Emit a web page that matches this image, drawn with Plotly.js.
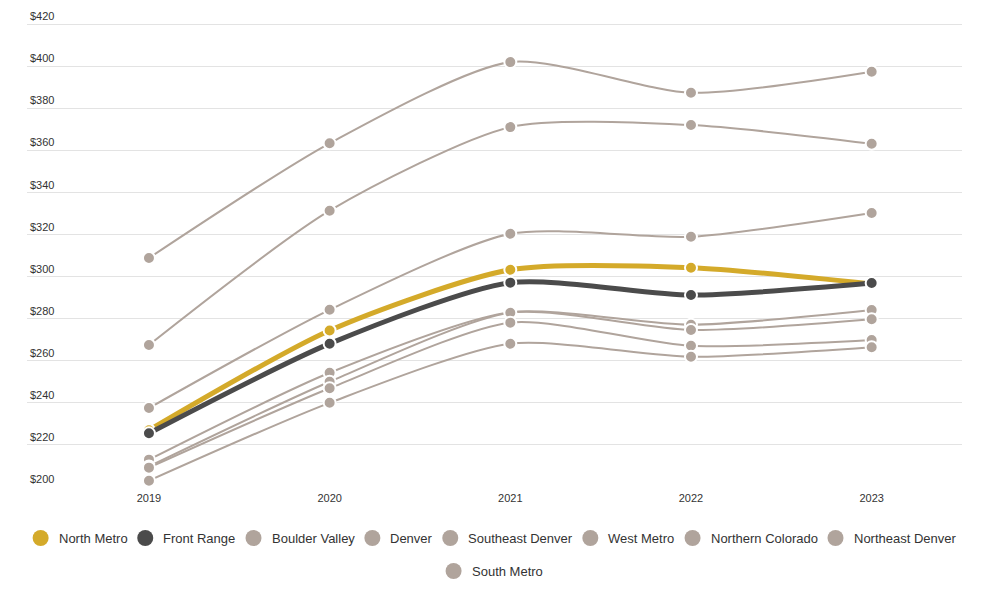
<!DOCTYPE html>
<html>
<head>
<meta charset="utf-8">
<script src="https://cdn.plot.ly/plotly-3.0.1.min.js"></script>
<style>
  html, body { margin: 0; padding: 0; background: #fff; }
  #chart { width: 1000px; height: 612px; }
</style>
</head>
<body>
<div id="chart"></div>
<script>
// ---- Data ----
const years = [2019, 2020, 2021, 2022, 2023];
const yearLabels = ["2019", "2020", "2021", "2022", "2023"];

const northMetro       = [227.0, 274.4, 303.2, 304.2, 296.5];
const frontRange       = [225.5, 268.1, 297.1, 291.2, 296.9];
const boulderValley    = [308.8, 363.3, 401.9, 387.3, 397.3];
const denver           = [267.5, 331.3, 371.0, 372.0, 363.1];
const southeastDenver  = [237.5, 284.2, 320.3, 318.9, 330.2];
const westMetro        = [213.0, 254.3, 283.1, 277.1, 284.1];
const northernColorado = [209.8, 250.0, 282.8, 274.6, 279.7];
const northeastDenver  = [209.2, 246.9, 278.1, 267.1, 269.8];
const southMetro       = [203.0, 240.0, 268.1, 261.9, 266.4];

const seriesNames = ["North Metro", "Front Range", "Boulder Valley", "Denver",
  "Southeast Denver", "West Metro", "Northern Colorado", "Northeast Denver", "South Metro"];
const seriesValues = [northMetro, frontRange, boulderValley, denver,
  southeastDenver, westMetro, northernColorado, northeastDenver, southMetro];

const yTickVals = [200, 220, 240, 260, 280, 300, 320, 340, 360, 380, 400, 420];
const yTickText = yTickVals.map(v => "$" + v);

// ---- Styles ----
const YELLOW = "#d4aa2a", DARK = "#4b4b4b", GRAY = "#b0a49c";
const colors = [YELLOW, DARK, GRAY, GRAY, GRAY, GRAY, GRAY, GRAY, GRAY];
const widths = [5, 5, 2, 2, 2, 2, 2, 2, 2];
const FONT = "Liberation Sans, Arial, sans-serif";

const W = 1000, H = 612;
const M = { l: 27, r: 38, t: 9, b: 125 };
const plotW = W - M.l - M.r, plotH = H - M.t - M.b;
// keep 200 at the plot bottom and 420 at y=24px, leaving room above for the top label
const yTop = 200 + plotH * (220 / 463);

// draw order: grays first, then highlighted series on top
const drawOrder = [2, 3, 4, 5, 6, 7, 8, 0, 1];
const traces = drawOrder.map(i => ({
  type: "scatter",
  mode: "lines+markers",
  name: seriesNames[i],
  x: years,
  y: seriesValues[i],
  line: { color: colors[i], width: widths[i], shape: "spline", smoothing: 0.7 },
  marker: { color: colors[i], size: 12, line: { color: "#ffffff", width: 2 } },
  showlegend: false,
  hoverinfo: "x+y+name"
}));

// ---- Custom legend (Highcharts-like row layout) ----
const ctx = document.createElement("canvas").getContext("2d");
ctx.font = "13px 'Liberation Sans', Arial, sans-serif";
const R = 8, GAP_TXT = 18, GAP_ITEM = 18, MAXROW = 950, CENTER = 494;
const items = seriesNames.map((n, i) => ({ name: n, color: colors[i], tw: ctx.measureText(n).width }));
const rows = [];
let cur = [], curW = 0;
items.forEach(it => {
  const w = GAP_TXT + it.tw;
  const add = cur.length ? GAP_ITEM + w : R + w;
  if (cur.length && curW + add > MAXROW) { rows.push({ items: cur, w: curW }); cur = []; curW = 0; }
  curW += cur.length ? GAP_ITEM + w : R + w;
  cur.push(it);
});
if (cur.length) rows.push({ items: cur, w: curW });

const px2x = px => (px - M.l) / plotW;
const py2y = py => (H - M.b - py) / plotH;
const shapes = [], annotations = [];
const rowY = [538, 571];
rows.forEach((row, ri) => {
  let x = CENTER - row.w / 2 + R;
  const cy = rowY[ri] !== undefined ? rowY[ri] : 538 + 33 * ri;
  row.items.forEach(it => {
    shapes.push({
      type: "circle", xref: "paper", yref: "paper",
      xsizemode: "pixel", ysizemode: "pixel",
      xanchor: px2x(x), yanchor: py2y(cy),
      x0: -R, x1: R, y0: -R, y1: R,
      fillcolor: it.color, line: { width: 0 }
    });
    annotations.push({
      xref: "paper", yref: "paper",
      x: px2x(x + GAP_TXT - 2), y: py2y(cy),
      xanchor: "left", yanchor: "middle",
      text: it.name, showarrow: false,
      font: { family: FONT, size: 13, color: "#333333" }
    });
    x += GAP_TXT + it.tw + GAP_ITEM;
  });
});

const layout = {
  width: W, height: H,
  margin: M,
  paper_bgcolor: "#ffffff", plot_bgcolor: "#ffffff",
  showlegend: false,
  font: { family: FONT, color: "#333333" },
  xaxis: {
    type: "linear",
    range: [2018.325, 2023.5],
    tickvals: years, ticktext: yearLabels,
    showgrid: false, zeroline: false, showline: false,
    ticks: "", ticklabelstandoff: 3,
    tickfont: { family: FONT, size: 11, color: "#333333" }
  },
  yaxis: {
    range: [200, yTop],
    tickvals: yTickVals, ticktext: yTickText,
    ticklabelposition: "inside top",
    showgrid: true, gridcolor: "#e3e3e3", gridwidth: 1,
    zeroline: false, showline: false, ticks: "",
    tickfont: { family: FONT, size: 11, color: "#333333" }
  },
  shapes: shapes,
  annotations: annotations
};

Plotly.newPlot("chart", traces, layout, { displayModeBar: false });
</script>
</body>
</html>
